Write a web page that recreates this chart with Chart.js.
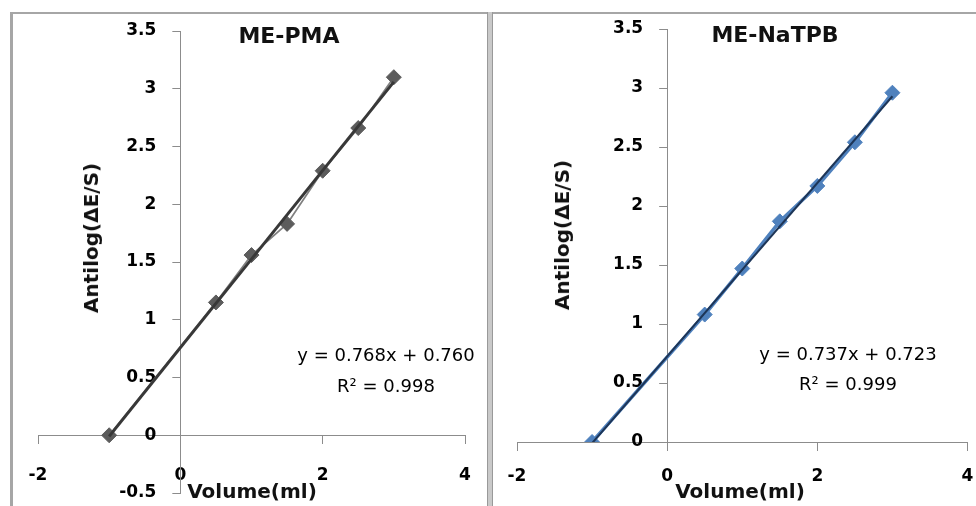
<!DOCTYPE html>
<html>
<head>
<meta charset="utf-8">
<script src="https://cdn.jsdelivr.net/npm/chart.js@4.4.1/dist/chart.umd.min.js"></script>
<style>
  body { margin: 0; background: #fff; }
  #wrap { position: relative; width: 976px; height: 506px; overflow: hidden; background: #fff; }
  canvas { position: absolute; top: 0; }
  .frame { position: absolute; box-sizing: border-box; }
  .txt { position: absolute; transform: translate(-50%, -50%); white-space: nowrap;
         font-family: "DejaVu Sans", sans-serif; line-height: 1; color: #111; }
  .ttl { font-size: 22px; font-weight: bold; }
  .axt { font-size: 20px; font-weight: bold; }
  .eq  { font-size: 18px; color: #000; }
  .rot { transform: translate(-50%, -50%) rotate(-90deg); }
</style>
</head>
<body>
<div id="wrap">
  <!-- rahmen -->
  <div class="frame" style="left:10px;top:12px;width:478px;height:500px;border-top:2px solid #a6a6a6;border-left:3px solid #a6a6a6;"></div>
  <div class="frame" style="left:487px;top:12px;width:6px;height:500px;background:#c9c9c9;border-left:1px solid #999;border-right:1px solid #999;"></div>
  <div class="frame" style="left:493px;top:12px;width:483px;height:2px;background:#a6a6a6;"></div>

  <canvas id="chartPMA" width="488" height="506" style="left:0px;"></canvas>
  <canvas id="chartNaTPB" width="488" height="506" style="left:488px;"></canvas>

  <div class="txt ttl" style="left:289px;top:36px;">ME-PMA</div>
  <div class="txt ttl" style="left:775px;top:35px;">ME-NaTPB</div>

  <div class="txt eq" style="left:386px;top:355px;">y = 0.768x + 0.760</div>
  <div class="txt eq" style="left:386px;top:386px;">R² = 0.998</div>
  <div class="txt eq" style="left:848px;top:354px;">y = 0.737x + 0.723</div>
  <div class="txt eq" style="left:848px;top:384px;">R² = 0.999</div>

  <div class="txt axt" style="left:252px;top:491px;">Volume(ml)</div>
  <div class="txt axt" style="left:740px;top:491px;">Volume(ml)</div>
  <div class="txt axt rot" style="left:91px;top:238px;">Antilog(ΔE/S)</div>
  <div class="txt axt rot" style="left:562px;top:235px;">Antilog(ΔE/S)</div>
</div>

<script>
const volume = [-1, 0.5, 1, 1.5, 2, 2.5, 3];
const pmaValues = [0, 1.15, 1.56, 1.83, 2.29, 2.66, 3.10];
const natpbValues = [0, 1.08, 1.47, 1.87, 2.17, 2.54, 2.96];

// Trendlinien-Endpunkte
const trendX = [-1, 3];
const pmaTrend = [-0.01, 3.06];
const natpbTrend = [-0.01, 2.93];

// Achsen
const xTicks = [-2, 0, 2, 4];
const pmaYRange = [-0.5, 3.5];
const natpbYRange = [0, 3.5];

const tickFont = { family: 'DejaVu Sans', size: 17, weight: 'bold' };
const axisGray = '#8c8c8c';

// y-Achse bei x = 0 platzieren (wie in Excel), Ticks + Labels links davon
const yAxisAtZero = {
  id: 'yAxisAtZero',
  afterLayout(chart) {
    const ys = chart.scales.y;
    const x0 = chart.scales.x.getPixelForValue(0);
    ys.left = x0 - 90; // Platz fuer die Labels (sonst weggeclippt)
    ys.right = x0;
  }
};

function toPoints(xs, ys) {
  return xs.map((x, i) => ({ x: x, y: ys[i] }));
}

function makeChart(canvasId, opts) {
  const ctx = document.getElementById(canvasId).getContext('2d');
  return new Chart(ctx, {
    type: 'scatter',
    plugins: [yAxisAtZero],
    data: {
      datasets: [
        {
          // Trendlinie oben
          data: toPoints(trendX, opts.trend),
          showLine: true,
          borderColor: opts.trendColor,
          borderWidth: opts.trendWidth,
          pointRadius: 0,
          order: 0
        },
        {
          data: toPoints(volume, opts.values),
          showLine: true,
          borderColor: opts.lineColor,
          borderWidth: opts.lineWidth,
          pointStyle: 'rectRot',
          pointRadius: 7.5,
          pointBackgroundColor: opts.markerColor,
          pointBorderColor: opts.markerColor,
          pointBorderWidth: 1,
          order: 1
        }
      ]
    },
    options: {
      responsive: false,
      animation: false,
      layout: { padding: opts.padding },
      plugins: { legend: { display: false }, tooltip: { enabled: false } },
      scales: {
        x: {
          type: 'linear',
          min: -2,
          max: 4,
          position: { y: 0 },
          afterFit: s => { s.height = 0; s.paddingLeft = 0; s.paddingRight = 0; },
          afterBuildTicks: s => { s.ticks = xTicks.map(v => ({ value: v })); },
          grid: { drawOnChartArea: false, drawTicks: true, tickLength: 8, color: axisGray },
          border: { color: axisGray, width: 1 },
          ticks: { font: tickFont, color: '#000', padding: opts.xPad, maxRotation: 0, autoSkip: false,
                   callback: v => String(v) }
        },
        y: {
          type: 'linear',
          min: opts.yRange[0],
          max: opts.yRange[1],
          position: 'left',
          afterFit: s => { s.width = 0; s.paddingTop = 0; s.paddingBottom = 0; },
          grid: { drawOnChartArea: false, drawTicks: true, tickLength: 8, color: axisGray },
          border: { color: axisGray, width: 1 },
          ticks: { font: tickFont, color: '#000', padding: 16, stepSize: 0.5, autoSkip: false,
                   callback: v => String(v) }
        }
      }
    }
  });
}

makeChart('chartPMA', {
  values: pmaValues,
  trend: pmaTrend,
  yRange: pmaYRange,
  trendColor: '#383838',
  trendWidth: 3,
  lineColor: '#808080',
  lineWidth: 1.8,
  markerColor: '#5c5c5c',
  padding: { left: 38, right: 23, top: 31, bottom: 13 },
  xPad: 22
});

makeChart('chartNaTPB', {
  values: natpbValues,
  trend: natpbTrend,
  yRange: natpbYRange,
  trendColor: '#1d3557',
  trendWidth: 2,
  lineColor: '#4f81bd',
  lineWidth: 3.5,
  markerColor: '#4f81bd',
  padding: { left: 29, right: 8, top: 29, bottom: 64 },
  xPad: 16
});
</script>
</body>
</html>
